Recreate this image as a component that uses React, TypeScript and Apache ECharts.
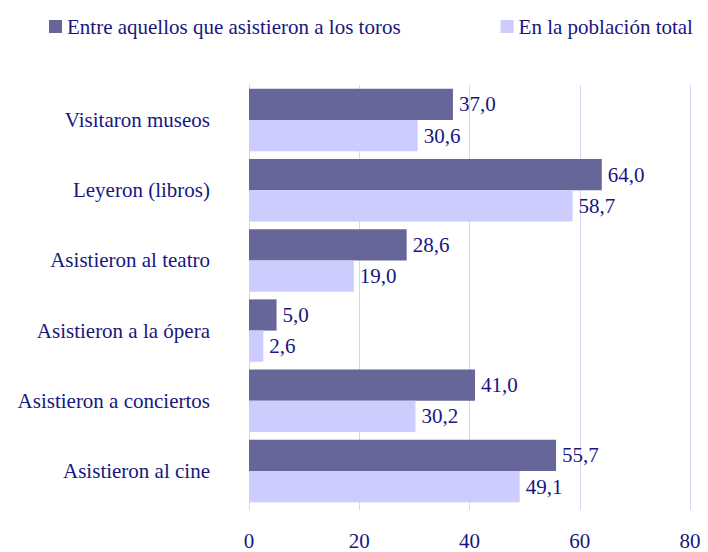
import React, { useEffect, useRef } from "react";
import * as echarts from "echarts";

const categories = [
  "Visitaron museos",
  "Leyeron (libros)",
  "Asistieron al teatro",
  "Asistieron a la ópera",
  "Asistieron a conciertos",
  "Asistieron al cine",
];
const toros = [37.0, 64.0, 28.6, 5.0, 41.0, 55.7];
const total = [30.6, 58.7, 19.0, 2.6, 30.2, 49.1];
const seriesNames = ["Entre aquellos que asistieron a los toros", "En la población total"];
const xTicks = [0, 20, 40, 60, 80];

const FONT = "serif";
const SIZE = 21;
const TEXT = "#17177f";
const GRID = "#d6d6f2";

export default function App() {
  const ref = useRef<HTMLDivElement>(null);
  useEffect(() => {
    const chart = echarts.init(ref.current!, null, { renderer: "svg" });
    const label = {
      show: true,
      position: "right",
      distance: 6,
      color: TEXT,
      fontFamily: FONT,
      fontSize: SIZE,
      formatter: (p: any) => p.value.toFixed(1).replace(".", ","),
    };
    chart.setOption({
      animation: false,
      legend: {
        top: 11,
        left: 44,
        itemWidth: 13,
        itemHeight: 13,
        itemGap: 100,
        icon: "rect",
        textStyle: { color: TEXT, fontFamily: FONT, fontSize: SIZE },
        data: seriesNames,
      },
      grid: { left: 249, right: 18, top: 85, bottom: 46, containLabel: false, outerBoundsMode: "none" },
      xAxis: {
        type: "value",
        min: xTicks[0],
        max: xTicks[xTicks.length - 1],
        interval: 20,
        axisLine: { show: false },
        axisTick: { show: true, length: 4, lineStyle: { color: GRID } },
        splitLine: { show: true, lineStyle: { color: GRID, width: 1 } },
        axisLabel: { color: TEXT, fontFamily: FONT, fontSize: SIZE, margin: 24 },
      },
      yAxis: {
        type: "category",
        inverse: true,
        data: categories,
        axisLine: { show: true, lineStyle: { color: GRID } },
        axisTick: { show: false },
        axisLabel: { color: TEXT, fontFamily: FONT, fontSize: SIZE, margin: 39 },
      },
      series: [
        {
          name: seriesNames[0],
          type: "bar",
          data: toros,
          barGap: "0%",
          barCategoryGap: "11%",
          itemStyle: { color: "#666699" },
          label,
        },
        {
          name: seriesNames[1],
          type: "bar",
          data: total,
          barGap: "0%",
          barCategoryGap: "11%",
          itemStyle: { color: "#ccccff" },
          label,
        },
      ],
    });
    return () => chart.dispose();
  }, []);
  return (
    <>
      <style>{`#root svg text { font-family: 'Liberation Serif', 'Times New Roman', serif !important; }`}</style>
      <div
        ref={ref}
        style={{ position: "absolute", left: 0, top: 0, width: 708, height: 552 }}
      />
    </>
  );
}
